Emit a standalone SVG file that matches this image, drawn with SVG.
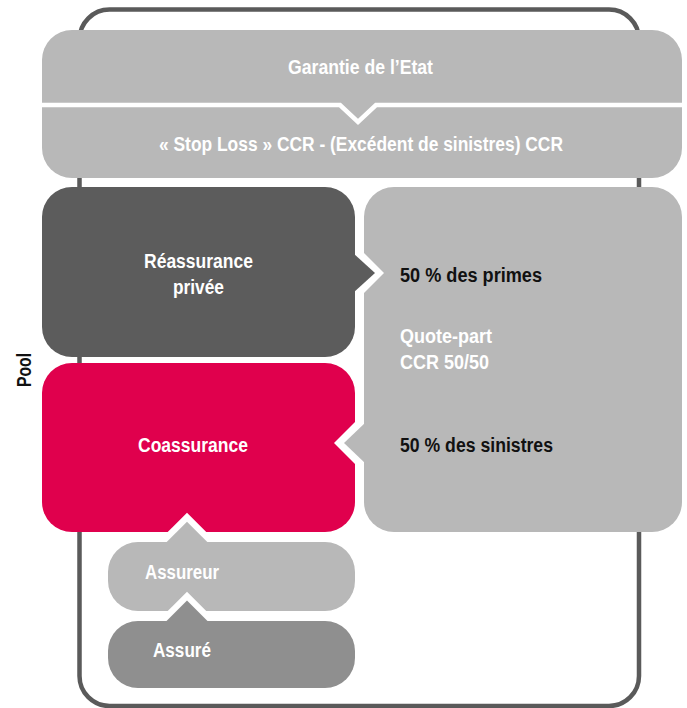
<svg xmlns="http://www.w3.org/2000/svg" width="687" height="708" viewBox="0 0 687 708">
<style>
.t{font-family:"Liberation Sans",Arial,sans-serif;font-weight:bold;font-size:20px}
.w{fill:#ffffff}
.k{fill:#111111}
.c{text-anchor:middle}
.frame{fill:none;stroke:#5a5a5a;stroke-width:4.5}
.wh{fill:#ffffff}
</style>
<rect class="frame" x="79.5" y="9.5" width="559.5" height="696.5" rx="30"/>
<g id="pool"><text class="t k c" transform="translate(31,370) rotate(-90)" textLength="34" lengthAdjust="spacingAndGlyphs">Pool</text></g>
<g id="garantie">
<path d="M42,105 V60 A30,30 0 0 1 72,30 H652 A30,30 0 0 1 682,60 V105 Z" fill="#b8b8b8"/>
<text class="t w c" x="360.5" y="74" textLength="145" lengthAdjust="spacingAndGlyphs">Garantie de l’Etat</text>
</g>
<g id="stoploss">
<path d="M42,105 H682 V148 A30,30 0 0 1 652,178 H72 A30,30 0 0 1 42,148 Z" fill="#b8b8b8"/>
<text class="t w c" x="361" y="151" textLength="404" lengthAdjust="spacingAndGlyphs">« Stop Loss » CCR - (Excédent de sinistres) CCR</text>
</g>
<g id="reassurance">
<rect x="42" y="187" width="313" height="170" rx="30" fill="#5c5c5c"/>
<text class="t w c" x="198.5" y="268" textLength="109" lengthAdjust="spacingAndGlyphs">Réassurance</text>
<text class="t w c" x="198.5" y="294" textLength="51" lengthAdjust="spacingAndGlyphs">privée</text>
</g>
<g id="quotepart">
<rect x="364" y="187" width="318" height="345" rx="30" fill="#b8b8b8"/>
<text class="t k" x="400" y="282" textLength="142" lengthAdjust="spacingAndGlyphs">50 % des primes</text>
<text class="t w" x="400" y="343" textLength="92" lengthAdjust="spacingAndGlyphs">Quote-part</text>
<text class="t w" x="400" y="369" textLength="89" lengthAdjust="spacingAndGlyphs">CCR 50/50</text>
<text class="t k" x="400" y="452" textLength="153" lengthAdjust="spacingAndGlyphs">50 % des sinistres</text>
</g>
<g id="coassurance">
<rect x="42" y="363" width="313" height="169" rx="30" fill="#e0004d"/>
<text class="t w c" x="193" y="452" textLength="110" lengthAdjust="spacingAndGlyphs">Coassurance</text>
</g>
<g id="assureur">
<rect x="108" y="542" width="247" height="69" rx="30" fill="#b8b8b8"/>
<text class="t w" x="145" y="579" textLength="74" lengthAdjust="spacingAndGlyphs">Assureur</text>
</g>
<g id="assure">
<rect x="108" y="621" width="247" height="67" rx="30" fill="#8f8f8f"/>
<text class="t w" x="153" y="657" textLength="58" lengthAdjust="spacingAndGlyphs">Assuré</text>
</g>
<g id="connectors">
<polyline points="42,105 340,105 358,122 376,105 682,105" fill="none" stroke="#ffffff" stroke-width="4.5"/>
<polygon class="wh" points="355,244 384,273 355,302"/>
<polygon points="353,253 375,273 353,293" fill="#5c5c5c"/>
<polygon class="wh" points="364,413 334,443 364,473"/>
<polygon points="366,422 344,443 366,464" fill="#b8b8b8"/>
<polygon class="wh" points="157.7,542 187,512.7 216.3,542"/>
<polygon points="164.7,544 187,521.7 209.3,544" fill="#b8b8b8"/>
<polygon class="wh" points="157.7,621 187,591.7 216.3,621"/>
<polygon points="164.5,623 187,600.5 209.5,623" fill="#8f8f8f"/>
</g>
</svg>
